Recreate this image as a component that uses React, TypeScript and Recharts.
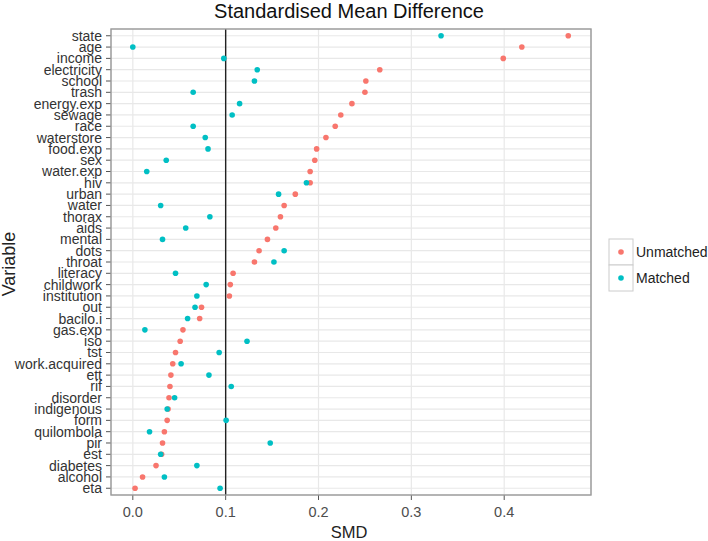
import React from 'react';
import { ScatterChart, Scatter, XAxis, YAxis, CartesianGrid, ReferenceLine } from 'recharts';

const categories = ['state', 'age', 'income', 'electricity', 'school', 'trash', 'energy.exp', 'sewage', 'race', 'waterstore', 'food.exp', 'sex', 'water.exp', 'hiv', 'urban', 'water', 'thorax', 'aids', 'mental', 'dots', 'throat', 'literacy', 'childwork', 'institution', 'out', 'bacilo.i', 'gas.exp', 'iso', 'tst', 'work.acquired', 'ett', 'rif', 'disorder', 'indigenous', 'form', 'quilombola', 'pir', 'est', 'diabetes', 'alcohol', 'eta'];

const unmatchedValues = [0.469, 0.419, 0.399, 0.266, 0.251, 0.25, 0.236, 0.224, 0.218, 0.208, 0.198, 0.196, 0.191, 0.191, 0.175, 0.163, 0.159, 0.154, 0.145, 0.136, 0.131, 0.108, 0.105, 0.104, 0.074, 0.072, 0.054, 0.051, 0.046, 0.043, 0.041, 0.04, 0.039, 0.038, 0.037, 0.034, 0.032, 0.031, 0.025, 0.0105, 0.0024];

const matchedValues = [0.332, 0.0, 0.098, 0.134, 0.131, 0.065, 0.115, 0.107, 0.065, 0.078, 0.081, 0.036, 0.015, 0.187, 0.157, 0.03, 0.083, 0.057, 0.032, 0.163, 0.152, 0.046, 0.079, 0.069, 0.067, 0.059, 0.013, 0.123, 0.093, 0.052, 0.082, 0.106, 0.045, 0.037, 0.1005, 0.018, 0.148, 0.03, 0.069, 0.034, 0.094];

const xTicks = [0, 0.1, 0.2, 0.3, 0.4];
const seriesNames = ['Unmatched', 'Matched'];

const RED = '#F8766D';
const TEAL = '#00BFC4';
const FONT = '"Liberation Sans", Arial, sans-serif';

const unmatchedData = categories.map((c, i) => ({ variable: c, smd: unmatchedValues[i] }));
const matchedData = categories.map((c, i) => ({ variable: c, smd: matchedValues[i] }));

const dot = (color: string) => (props: any) => (
  <circle cx={props.cx} cy={props.cy} r={2.8} fill={color} />
);

export default function App() {
  return (
    <div style={{ position: 'absolute', left: 0, top: 0, width: 708, height: 541, background: '#fff', fontFamily: FONT }}>
      <ScatterChart
        width={708}
        height={541}
        margin={{ top: 29, right: 117, bottom: 6, left: 8 }}
        style={{ fontFamily: FONT }}
      >
        <CartesianGrid stroke="#e8e8e8" strokeWidth={1.2} vertical={true} horizontal={true} />
        <XAxis
          type="number"
          dataKey="smd"
          domain={[-0.0235, 0.4935]}
          ticks={xTicks}
          allowDataOverflow
          tickFormatter={(v: number) => v.toFixed(1)}
          axisLine={false}
          tickLine={{ stroke: '#555' }}
          tickSize={5}
          tickMargin={7}
          height={40}
          tick={{ fontSize: 14.5, fill: '#4d4d4d', fontFamily: FONT }}
        />
        <YAxis
          type="category"
          dataKey="variable"
          allowDuplicatedCategory={false}
          reversed
          width={103}
          interval={0}
          padding={{ top: 1.1, bottom: 1.1 }}
          axisLine={false}
          tickLine={{ stroke: '#555' }}
          tickSize={5}
          tickMargin={4}
          tick={{ fontSize: 14, fill: '#333', fontFamily: FONT }}
        />
        <Scatter name={seriesNames[0]} data={unmatchedData} fill={RED} shape={dot(RED)} isAnimationActive={false} />
        <Scatter name={seriesNames[1]} data={matchedData} fill={TEAL} shape={dot(TEAL)} isAnimationActive={false} />
        <ReferenceLine x={0.1} stroke="#222" strokeWidth={1.4} />
      </ScatterChart>

      <svg width={708} height={541} style={{ position: 'absolute', left: 0, top: 0, pointerEvents: 'none' }}>
        <rect x={111} y={29} width={480} height={466} fill="none" stroke="#999" strokeWidth={1.4} />
        <text x={349} y={18} textAnchor="middle" fontSize={20} fill="#111" fontFamily={FONT}>Standardised Mean Difference</text>
        <text x={349} y={538} textAnchor="middle" fontSize={16.5} fill="#222" fontFamily={FONT}>SMD</text>
        <text x={15} y={264} textAnchor="middle" fontSize={18} fill="#222" fontFamily={FONT} transform="rotate(-90, 15, 264)">Variable</text>
        <g>
          <rect x={609} y={239} width={24} height={26} fill="#fff" stroke="#ccc" strokeWidth={1} />
          <circle cx={621} cy={252} r={2.8} fill={RED} />
          <text x={636} y={257} fontSize={14} fill="#222" fontFamily={FONT}>{seriesNames[0]}</text>
          <rect x={609} y={265} width={24} height={26} fill="#fff" stroke="#ccc" strokeWidth={1} />
          <circle cx={621} cy={278} r={2.8} fill={TEAL} />
          <text x={636} y={283} fontSize={14} fill="#222" fontFamily={FONT}>{seriesNames[1]}</text>
        </g>
      </svg>
    </div>
  );
}
